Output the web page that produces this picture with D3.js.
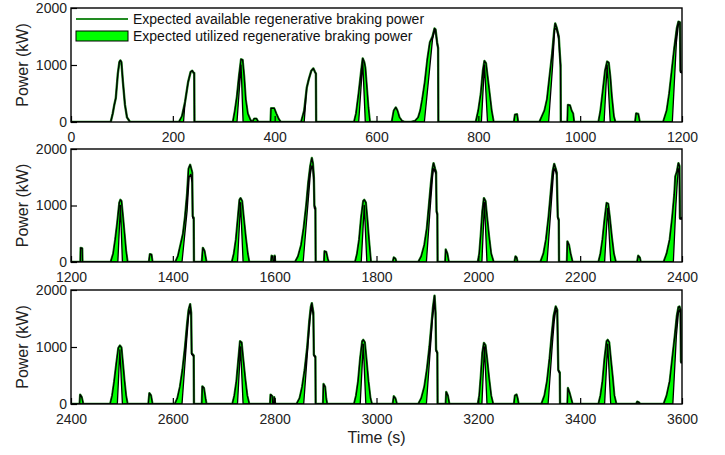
<!DOCTYPE html>
<html><head><meta charset="utf-8">
<script src="https://cdn.jsdelivr.net/npm/d3@7"></script>
<style>body{margin:0;background:#fff}svg{display:block}text{font-family:Arial,"Liberation Sans",sans-serif}</style>
</head><body><svg id="c" width="725" height="455"></svg>
<script>
// ---- data (time s, power kW) ----
const yTicks = [0, 1000, 2000];
const xTicks1 = [0, 200, 400, 600, 800, 1000, 1200];
const xTicks2 = [1200, 1400, 1600, 1800, 2000, 2200, 2400];
const xTicks3 = [2400, 2600, 2800, 3000, 3200, 3400, 3600];
const legendLabels = ["Expected available regenerative braking power", "Expected utilized regenerative braking power"];

const avail1 = [[0,0],[78,0],[82,150],[85,300],[88,420],[92,850],[95,1050],[97,1080],[99,1050],[102,700],[106,300],[110,80],[116,0],
[212,0],[218,100],[224,350],[230,700],[235,880],[238,900],[241,860],[242,860],[242.5,0],
[318,0],[322,200],[326,450],[330,800],[334,1100],[337,1090],[340,800],[343,400],[347,150],[352,40],[356,0],[360,60],[364,60],[368,0],
[392,0],[393,240],[399,240],[403,150],[408,50],[412,0],
[452,0],[458,200],[463,600],[467,750],[472,900],[476,940],[479,880],[481,850],[481.5,0],
[556,0],[560,150],[565,500],[570,900],[573,1115],[576,1050],[578,950],[581,600],[584,250],[587,0],
[630,0],[634,200],[638,255],[641,200],[645,80],[650,20],[656,0],
[668,0],[676,20],[682,80],[686,200],[690,400],[695,700],[700,1100],[705,1400],[710,1500],[714,1640],[716,1620],[719,1400],[721,1300],[721.5,0],
[795,0],[800,200],[805,500],[809,900],[812,1070],[815,1030],[818,800],[822,500],[826,200],[830,0],
[870,0],[872,130],[876,135],[878,0],
[920,0],[925,100],[930,200],[935,400],[940,800],[945,1200],[949,1600],[951,1730],[954,1650],[958,1500],[960,1200],[961.5,1000],[962,0],
[975,0],[976,300],[980,290],[983,200],[986,150],[988,0],
[1036,0],[1040,200],[1044,500],[1049,900],[1053,1060],[1056,1040],[1059,800],[1062,450],[1066,100],[1069,0],
[1108,0],[1110,150],[1114,140],[1117,0],
[1163,0],[1170,200],[1175,500],[1180,900],[1185,1300],[1190,1650],[1193,1760],[1196,1750],[1197,900],[1200,880]];

const unused1 = [[0,0],[78,0],[82,150],[85,300],[88,420],[92,850],[95,1050],[97,1080],[99,1050],[102,700],[106,300],[110,80],[116,0],
[221,0],[224,350],[230,700],[235,880],[238,900],[241,860],[242,860],[242.5,0],
[326,0],[334,1000],[338,0],
[458,0],[463,600],[467,750],[472,900],[476,940],[479,880],[481,850],[481.5,0],
[565,0],[573,1050],[578,0],
[694,0],[704,900],[710,1450],[714,1600],[716,1600],[719,1380],[721,1280],[721.5,0],
[806,0],[812,1000],[818,0],
[938,0],[946,1000],[950,1650],[954,1620],[958,1450],[960,1150],[961.5,950],[962,0],
[1047,0],[1053,1000],[1059,0],
[1181,0],[1189,1400],[1193,1720],[1196,1720],[1197,870],[1200,860]];

const avail2 = [[1200,0],[1218.5,0],[1219,250],[1222,240],[1222.5,0],
[1278,0],[1283,150],[1287,400],[1291,700],[1295,1050],[1297,1100],[1299,1080],[1302,800],[1305,500],[1308,200],[1311,0],
[1353,0],[1355,140],[1358,130],[1360,0],
[1405,0],[1410,100],[1415,300],[1420,500],[1424,800],[1428,1200],[1431,1650],[1434,1720],[1437,1620],[1438,1580],[1439,810],[1441,780],[1441.5,0],
[1457,0],[1459,250],[1462,200],[1466,0],
[1516,0],[1520,150],[1524,400],[1528,800],[1531,1100],[1533,1130],[1536,1080],[1539,800],[1543,450],[1547,150],[1550,0],
[1593,0],[1594,110],[1596,100],[1597,0],[1599,0],[1600,110],[1601,0],
[1640,0],[1646,100],[1652,300],[1657,600],[1662,1000],[1666,1400],[1670,1700],[1673,1840],[1675,1750],[1677,1500],[1678,1000],[1680,950],[1680.5,0],
[1697,0],[1698,190],[1701,180],[1704,60],[1706,0],
[1758,0],[1762,150],[1766,400],[1770,800],[1774,1080],[1776,1100],[1779,1050],[1782,750],[1785,400],[1789,0],
[1832,0],[1834,80],[1837,60],[1839,0],
[1882,0],[1888,100],[1894,300],[1899,600],[1903,1000],[1907,1400],[1910,1650],[1912,1750],[1915,1650],[1917,1590],[1918,900],[1919.5,850],[1920,0],
[1935,0],[1936,220],[1939,150],[1942,0],
[1999,0],[2002,150],[2005,500],[2008,900],[2011,1130],[2014,1080],[2017,800],[2021,450],[2025,150],[2030,0],
[2071,0],[2073,100],[2075,80],[2077,0],
[2122,0],[2128,150],[2133,400],[2138,800],[2142,1200],[2146,1600],[2149,1735],[2152,1650],[2154,1580],[2156,800],[2158,750],[2158.5,0],
[2174,0],[2175,365],[2178,300],[2181,150],[2185,0],
[2236,0],[2240,150],[2244,400],[2248,750],[2252,1045],[2255,1030],[2258,800],[2262,450],[2266,150],[2270,0],
[2312,0],[2314,110],[2317,80],[2319,0],
[2364,0],[2370,150],[2376,400],[2381,800],[2385,1200],[2387,1515],[2390,1600],[2393,1750],[2395,1700],[2396,780],[2400,780]];

const unused2 = [[1200,0],
[1292,0],[1297,1000],[1301,0],
[1418,0],[1428,900],[1432,1500],[1435,1550],[1437,1450],[1438,1400],[1439,780],[1441,760],[1441.5,0],
[1527,0],[1533,1050],[1538,0],
[1656,0],[1666,1100],[1670,1550],[1673,1700],[1675,1650],[1677,1400],[1678,950],[1680,930],[1680.5,0],
[1770,0],[1776,1000],[1781,0],
[1898,0],[1905,900],[1910,1500],[1912,1650],[1915,1600],[1917,1550],[1918,870],[1919.5,830],[1920,0],
[2007,0],[2012,1050],[2017,0],
[2135,0],[2143,1000],[2147,1500],[2149,1650],[2152,1600],[2154,1540],[2156,780],[2158,730],[2158.5,0],
[2248,0],[2254,950],[2260,0],
[2383,0],[2388,1000],[2391,1450],[2393,1650],[2395,1650],[2396,760],[2400,760]];

const avail3 = [[2400,0],[2417,0],[2418,163],[2421,120],[2424,0],
[2477,0],[2481,150],[2485,400],[2489,700],[2493,980],[2496,1025],[2499,990],[2502,700],[2505,400],[2508,150],[2511,0],
[2552,0],[2554,190],[2557,150],[2560,0],
[2604,0],[2609,100],[2614,300],[2619,600],[2624,1000],[2628,1400],[2631,1650],[2634,1750],[2636,1600],[2637,890],[2641,850],[2641.5,0],
[2657,0],[2658,310],[2661,280],[2664,100],[2666,0],
[2717,0],[2721,150],[2725,400],[2729,800],[2732,1100],[2735,1080],[2738,800],[2742,450],[2746,150],[2750,0],
[2791,0],[2792,165],[2795,140],[2796,0],[2798,0],[2799,120],[2801,0],
[2843,0],[2849,100],[2854,300],[2859,600],[2864,1000],[2868,1450],[2871,1700],[2873,1770],[2876,1600],[2877,865],[2880,830],[2880.5,0],
[2895,0],[2896,350],[2899,300],[2901,100],[2903,0],
[2956,0],[2960,150],[2964,400],[2968,800],[2972,1100],[2974,1125],[2977,1080],[2980,800],[2984,400],[2988,100],[2991,0],
[3032,0],[3034,135],[3037,100],[3040,0],
[3082,0],[3088,100],[3094,300],[3099,600],[3104,1000],[3108,1400],[3111,1700],[3114,1900],[3116,1600],[3117,950],[3119.5,900],[3120,0],
[3136,0],[3137,210],[3140,150],[3143,0],
[3199,0],[3202,150],[3205,500],[3208,900],[3211,1070],[3214,1030],[3217,800],[3221,450],[3225,150],[3229,0],
[3270,0],[3272,150],[3275,165],[3277,100],[3279,0],
[3324,0],[3330,150],[3335,400],[3340,800],[3344,1200],[3348,1550],[3352,1710],[3355,1650],[3357,600],[3360,550],[3360.5,0],
[3375,0],[3376,280],[3379,200],[3382,100],[3385,0],
[3436,0],[3440,150],[3444,400],[3448,800],[3452,1100],[3454,1125],[3457,1080],[3460,800],[3464,450],[3467,150],[3471,0],
[3510,0],[3512,40],[3515,30],[3518,0],
[3564,0],[3570,150],[3576,400],[3581,800],[3586,1200],[3590,1550],[3593,1700],[3595,1710],[3597,1650],[3598,745],[3600,745]];

const unused3 = [[2400,0],
[2491,0],[2496,950],[2501,0],
[2618,0],[2627,1100],[2631,1550],[2634,1650],[2636,1550],[2637,870],[2641,830],[2641.5,0],
[2727,0],[2733,1000],[2738,0],
[2857,0],[2866,1100],[2870,1550],[2873,1700],[2876,1550],[2877,850],[2880,810],[2880.5,0],
[2968,0],[2974,1050],[2979,0],
[3098,0],[3106,1000],[3110,1500],[3114,1800],[3116,1550],[3117,930],[3119.5,880],[3120,0],
[3207,0],[3212,1000],[3217,0],
[3337,0],[3345,1000],[3349,1450],[3352,1650],[3355,1600],[3357,580],[3360,530],[3360.5,0],
[3448,0],[3454,1050],[3460,0],
[3582,0],[3589,1200],[3593,1600],[3595,1650],[3597,1600],[3598,720],[3600,720]];

// ---- drawing ----
const svg = d3.select("#c");
const left = 71, right = 682;
const panels = [
  {dom:[0,1200], top:8, bot:122, avail:avail1, unused:unused1, ticks:xTicks1},
  {dom:[1200,2400], top:149, bot:262, avail:avail2, unused:unused2, ticks:xTicks2},
  {dom:[2400,3600], top:290, bot:404, avail:avail3, unused:unused3, ticks:xTicks3}
];
const availColor = "#228b22", utilColor = "#00ff00", txt = "#222";

panels.forEach((p, i) => {
  const x = d3.scaleLinear().domain(p.dom).range([left, right]);
  const y = d3.scaleLinear().domain([0, 2000]).range([p.bot, p.top]);
  const g = svg.append("g");
  g.append("clipPath").attr("id", "clip" + i).append("rect")
    .attr("x", left).attr("y", p.top).attr("width", right - left).attr("height", p.bot - p.top);
  const plot = g.append("g").attr("clip-path", `url(#clip${i})`);
  const line = d3.line().x(d => x(d[0])).y(d => y(d[1]));
  plot.append("path").attr("d", line(p.avail)).attr("fill", "none")
    .attr("stroke", availColor).attr("stroke-width", 2.4).attr("stroke-linejoin", "round");
  const poly = p.avail.concat(p.unused.slice().reverse());
  plot.append("path").attr("d", line(poly) + "Z").attr("fill", utilColor)
    .attr("stroke", "#000").attr("stroke-width", 1.3).attr("stroke-linejoin", "round");

  const xa = g.append("g").attr("transform", `translate(0,${p.bot})`)
    .call(d3.axisBottom(x).tickValues(p.ticks).tickFormat(d3.format("d")).tickSizeInner(-6).tickSizeOuter(0).tickPadding(10));
  const ya = g.append("g").attr("transform", `translate(${left},0)`)
    .call(d3.axisLeft(y).tickValues(yTicks).tickFormat(d3.format("d")).tickSizeInner(-6).tickSizeOuter(0).tickPadding(4));
  [xa, ya].forEach(a => {
    a.select(".domain").remove();
    a.selectAll(".tick line").attr("stroke", "#000").attr("stroke-width", 1.2);
    a.selectAll(".tick text").attr("font-size", 14).attr("fill", txt)
      .attr("font-family", 'Arial,"Liberation Sans",sans-serif');
  });
  g.append("rect").attr("x", left).attr("y", p.top).attr("width", right - left).attr("height", p.bot - p.top)
    .attr("fill", "none").attr("stroke", "#000").attr("stroke-width", 1.4);
  g.append("text").attr("transform", `translate(28,${(p.top + p.bot) / 2}) rotate(-90)`)
    .attr("text-anchor", "middle").attr("font-size", 16).attr("fill", txt).text("Power (kW)");
});

svg.append("text").attr("x", (left + right) / 2).attr("y", 443).attr("text-anchor", "middle")
  .attr("font-size", 16).attr("fill", txt).text("Time (s)");

// legend
const lg = svg.append("g");
lg.append("line").attr("x1", 76).attr("x2", 128).attr("y1", 19).attr("y2", 19)
  .attr("stroke", availColor).attr("stroke-width", 2);
lg.append("rect").attr("x", 76).attr("y", 31).attr("width", 52).attr("height", 10)
  .attr("fill", utilColor).attr("stroke", "#000").attr("stroke-width", 1);
lg.selectAll("text.l").data(legendLabels).join("text").attr("class", "l")
  .attr("x", 133).attr("y", (d, i) => 24 + i * 17).attr("font-size", 14).attr("fill", "#111").text(d => d);
</script></body></html>
